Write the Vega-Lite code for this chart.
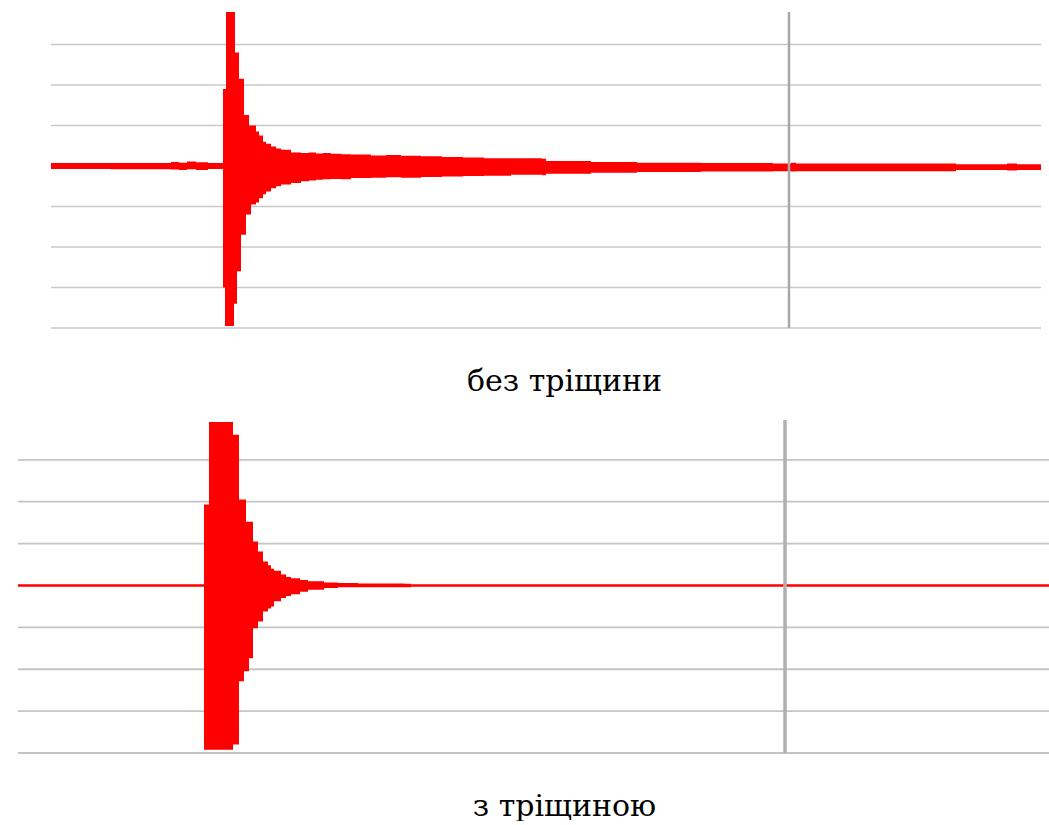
{
  "$schema": "https://vega.github.io/schema/vega-lite/v6.json",
  "padding": {"top": 10, "left": 17, "right": 0, "bottom": 0},
  "background": "white",
  "bounds": "flush",
  "spacing": 92,
  "config": {"view": {"stroke": null}},
  "datasets": {
    "top": [
      {"t": 0, "hi": 0.075, "lo": -0.075},
      {"t": 60, "hi": 0.075, "lo": -0.08},
      {"t": 120, "hi": 0.1, "lo": -0.09},
      {"t": 128, "hi": 0.08, "lo": -0.1},
      {"t": 136, "hi": 0.11, "lo": -0.08},
      {"t": 145, "hi": 0.09, "lo": -0.1},
      {"t": 157, "hi": 0.075, "lo": -0.075},
      {"t": 172, "hi": 1.9, "lo": -3.0},
      {"t": 174, "hi": 1.9, "lo": -3.95},
      {"t": 175, "hi": 3.8, "lo": -3.95},
      {"t": 183, "hi": 3.8, "lo": -3.4},
      {"t": 184, "hi": 2.8, "lo": -3.4},
      {"t": 186, "hi": 2.8, "lo": -2.6},
      {"t": 188, "hi": 2.15, "lo": -2.6},
      {"t": 190, "hi": 2.15, "lo": -1.7},
      {"t": 193, "hi": 1.26, "lo": -1.7},
      {"t": 195, "hi": 1.26, "lo": -1.2},
      {"t": 198, "hi": 1.0, "lo": -1.2},
      {"t": 200, "hi": 1.0, "lo": -0.95},
      {"t": 205, "hi": 0.85, "lo": -0.9},
      {"t": 208, "hi": 0.75, "lo": -0.8},
      {"t": 212, "hi": 0.6, "lo": -0.7},
      {"t": 215, "hi": 0.55, "lo": -0.63},
      {"t": 220, "hi": 0.48, "lo": -0.55},
      {"t": 225, "hi": 0.43, "lo": -0.5},
      {"t": 230, "hi": 0.4, "lo": -0.46},
      {"t": 240, "hi": 0.33, "lo": -0.42},
      {"t": 250, "hi": 0.32, "lo": -0.38},
      {"t": 258, "hi": 0.33, "lo": -0.36},
      {"t": 265, "hi": 0.31, "lo": -0.34},
      {"t": 272, "hi": 0.32, "lo": -0.33},
      {"t": 280, "hi": 0.3, "lo": -0.32},
      {"t": 290, "hi": 0.29, "lo": -0.33},
      {"t": 300, "hi": 0.28, "lo": -0.3},
      {"t": 310, "hi": 0.28, "lo": -0.3},
      {"t": 320, "hi": 0.26, "lo": -0.29},
      {"t": 335, "hi": 0.27, "lo": -0.28},
      {"t": 350, "hi": 0.25, "lo": -0.29},
      {"t": 370, "hi": 0.24, "lo": -0.27},
      {"t": 391, "hi": 0.22, "lo": -0.26},
      {"t": 412, "hi": 0.21, "lo": -0.25},
      {"t": 433, "hi": 0.19, "lo": -0.24},
      {"t": 460, "hi": 0.19, "lo": -0.22},
      {"t": 491, "hi": 0.18, "lo": -0.23},
      {"t": 495, "hi": 0.12, "lo": -0.19},
      {"t": 540, "hi": 0.1, "lo": -0.17},
      {"t": 586, "hi": 0.08, "lo": -0.15},
      {"t": 650, "hi": 0.07, "lo": -0.14},
      {"t": 722, "hi": 0.06, "lo": -0.13},
      {"t": 740, "hi": 0.08, "lo": -0.14},
      {"t": 745, "hi": 0.06, "lo": -0.13},
      {"t": 905, "hi": 0.04, "lo": -0.1},
      {"t": 956, "hi": 0.06, "lo": -0.11},
      {"t": 966, "hi": 0.04, "lo": -0.1},
      {"t": 990, "hi": 0.04, "lo": -0.1}
    ],
    "bottom": [
      {"t": 0, "hi": 0.03, "lo": -0.03},
      {"t": 186, "hi": 1.93, "lo": -3.92},
      {"t": 191, "hi": 3.9, "lo": -3.92},
      {"t": 215, "hi": 3.6, "lo": -3.8},
      {"t": 221, "hi": 2.05, "lo": -2.29},
      {"t": 226, "hi": 2.05, "lo": -2.05},
      {"t": 228, "hi": 1.52, "lo": -2.05},
      {"t": 231, "hi": 1.52, "lo": -1.74},
      {"t": 235, "hi": 1.05, "lo": -1.02},
      {"t": 240, "hi": 0.81, "lo": -0.86},
      {"t": 245, "hi": 0.57, "lo": -0.62},
      {"t": 250, "hi": 0.48, "lo": -0.55},
      {"t": 253, "hi": 0.4, "lo": -0.5},
      {"t": 256, "hi": 0.35, "lo": -0.38},
      {"t": 263, "hi": 0.26, "lo": -0.3},
      {"t": 268, "hi": 0.2, "lo": -0.25},
      {"t": 273, "hi": 0.17, "lo": -0.21},
      {"t": 282, "hi": 0.13, "lo": -0.15},
      {"t": 290, "hi": 0.1, "lo": -0.1},
      {"t": 306, "hi": 0.07, "lo": -0.06},
      {"t": 320, "hi": 0.06, "lo": -0.04},
      {"t": 340, "hi": 0.045, "lo": -0.04},
      {"t": 386, "hi": 0.04, "lo": -0.045},
      {"t": 393, "hi": 0.03, "lo": -0.03},
      {"t": 1032, "hi": 0.03, "lo": -0.03}
    ],
    "grid": [
      {"v": -4}, {"v": -3}, {"v": -2}, {"v": -1}, {"v": 1}, {"v": 2}, {"v": 3}
    ]
  },
  "vconcat": [
    {
      "width": 1032,
      "height": 316,
      "layer": [
        {
          "data": {"name": "grid"},
          "mark": {"type": "rule", "color": "#c8c8c8", "strokeWidth": 1.5},
          "encoding": {
            "y": {"field": "v", "type": "quantitative", "scale": {"domain": [-4, 3.8], "nice": false, "zero": false}, "axis": null},
            "x": {"datum": 0, "type": "quantitative", "scale": {"domain": [-33, 999], "nice": false, "zero": false},
              "axis": {"title": "без тріщини", "labels": false, "ticks": false, "domain": false, "grid": false,
                "titleFont": "DejaVu Serif", "titleFontSize": 30, "titleFontWeight": "normal", "titleColor": "#000000",
                "titleX": 546, "titleY": 62, "titleAlign": "center", "titleBaseline": "alphabetic"}},
            "x2": {"datum": 990}
          }
        },
        {
          "data": {"name": "top"},
          "mark": {"type": "area", "color": "#ff0000", "interpolate": "step-after", "clip": true},
          "encoding": {
            "x": {"field": "t", "type": "quantitative"},
            "y": {"field": "hi", "type": "quantitative"},
            "y2": {"field": "lo"}
          }
        },
        {
          "data": {"values": [{"pos": 738}]},
          "mark": {"type": "rule", "color": "#a8a8a8", "strokeWidth": 2.5},
          "encoding": {"x": {"field": "pos", "type": "quantitative"}}
        }
      ]
    },
    {
      "width": 1032,
      "height": 333,
      "layer": [
        {
          "data": {"name": "grid"},
          "mark": {"type": "rule", "color": "#c4c4c4", "strokeWidth": 1.8},
          "encoding": {
            "y": {"field": "v", "type": "quantitative", "scale": {"domain": [-4, 3.95], "nice": false, "zero": false}, "axis": null},
            "x": {"datum": 0, "type": "quantitative", "scale": {"domain": [0, 1032], "nice": false, "zero": false},
              "axis": {"title": "з тріщиною", "labels": false, "ticks": false, "domain": false, "grid": false,
                "titleFont": "DejaVu Serif", "titleFontSize": 30, "titleFontWeight": "normal", "titleColor": "#000000",
                "titleX": 546, "titleY": 62, "titleAlign": "center", "titleBaseline": "alphabetic"}},
            "x2": {"datum": 1032}
          }
        },
        {
          "data": {"name": "bottom"},
          "mark": {"type": "area", "color": "#ff0000", "interpolate": "step-after", "clip": true},
          "encoding": {
            "x": {"field": "t", "type": "quantitative"},
            "y": {"field": "hi", "type": "quantitative"},
            "y2": {"field": "lo"}
          }
        },
        {
          "data": {"values": [{"pos": 767}]},
          "mark": {"type": "rule", "color": "#b0b0b0", "strokeWidth": 3.5},
          "encoding": {"x": {"field": "pos", "type": "quantitative"}}
        }
      ]
    }
  ]
}
